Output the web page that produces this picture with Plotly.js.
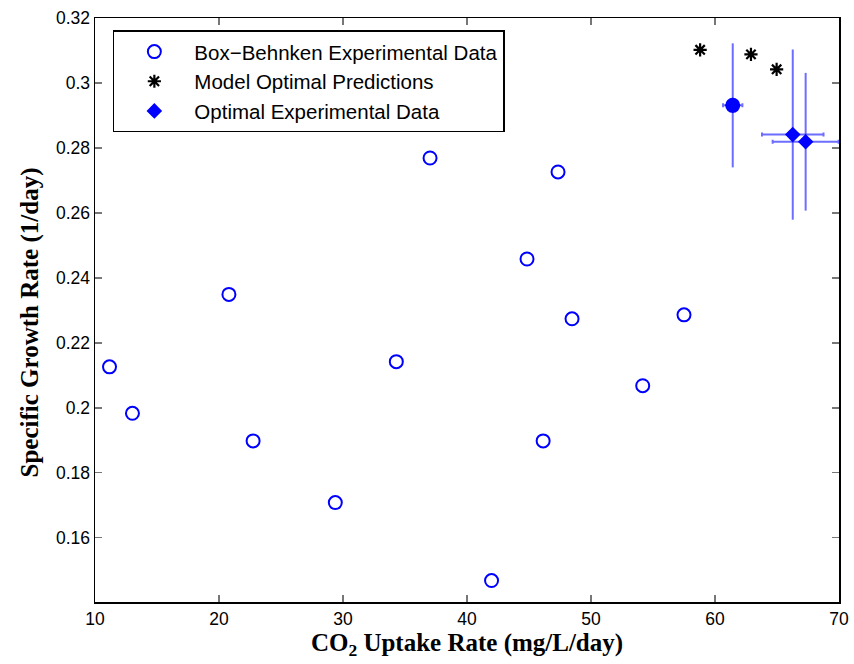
<!DOCTYPE html>
<html>
<head>
<meta charset="utf-8">
<script src="https://cdn.plot.ly/plotly-3.0.1.min.js"></script>
<style>html,body{margin:0;padding:0;background:#fff;}#chart{width:854px;height:664px;}</style>
</head>
<body>
<div id="chart"></div>
<script>
// Box-Behnken experimental data
const bbX = [11.17, 13.02, 20.8, 22.75, 29.38, 34.3, 37.02, 41.98, 44.84, 46.14, 47.34, 48.47, 54.17, 57.5];
const bbY = [0.2126, 0.1983, 0.2349, 0.1898, 0.1708, 0.2142, 0.2769, 0.1468, 0.2458, 0.1898, 0.2726, 0.2274, 0.2068, 0.2286];

// Model optimal predictions
const predX = [58.8, 62.9, 64.97];
const predY = [0.3102, 0.3088, 0.3042];

// Optimal experimental data with error bars
const optX = [61.43, 66.27, 67.31];
const optY = [0.2931, 0.2841, 0.2819];
const optXErr = [0.78, 2.48, 2.66];
const optYErr = [0.0191, 0.0262, 0.0212];

const yTicks = [0.16, 0.18, 0.2, 0.22, 0.24, 0.26, 0.28, 0.3, 0.32];
const yTickText = ['0.16', '0.18', '0.2', '0.22', '0.24', '0.26', '0.28', '0.3', '0.32'];
const xTicks = [10, 20, 30, 40, 50, 60, 70];

const traces = [
  {
    x: bbX, y: bbY, type: 'scatter', mode: 'markers',
    name: 'Box\u2212Behnken Experimental Data',
    marker: {symbol: 'circle-open', size: 13, color: '#0000ff', line: {width: 2, color: '#0000ff'}}
  },
  {
    x: predX, y: predY, type: 'scatter', mode: 'markers',
    name: 'Model Optimal Predictions',
    marker: {symbol: 'asterisk-open', size: 11, color: '#000000', line: {width: 2.2, color: '#000000'}}
  },
  {
    x: optX, y: optY, type: 'scatter', mode: 'markers',
    name: 'Optimal Experimental Data',
    marker: {symbol: 'diamond', size: 12, color: '#0000ff', line: {width: 0}},
    error_x: {type: 'data', array: optXErr, visible: true, color: 'rgba(60,60,255,0.75)', thickness: 2, width: 2},
    error_y: {type: 'data', array: optYErr, visible: true, color: 'rgba(60,60,255,0.75)', thickness: 2, width: 0}
  },
  {
    x: optX.slice(0, 1), y: optY.slice(0, 1), type: 'scatter', mode: 'markers',
    showlegend: false, hoverinfo: 'skip',
    marker: {symbol: 'circle', size: 15, color: '#0000ff', line: {width: 0}}
  }
];

const axisCommon = {
  showgrid: false, zeroline: false, showline: true, linecolor: '#000', linewidth: 1.5,
  mirror: 'ticks', ticks: 'inside', ticklen: 7, tickwidth: 1.5, tickcolor: '#777',
  tickfont: {family: 'Liberation Sans, Arial, sans-serif', size: 17.5, color: '#000'}
};

const layout = {
  width: 854, height: 664,
  margin: {l: 95, r: 15, t: 18, b: 62},
  paper_bgcolor: '#fff', plot_bgcolor: '#fff',
  showlegend: true,
  xaxis: Object.assign({}, axisCommon, {
    range: [10, 70], tickvals: xTicks, ticktext: xTicks.map(String),
    title: {text: '<b>CO<sub>2</sub> Uptake Rate (mg/L/day)</b>', standoff: 2,
            font: {family: 'Liberation Serif, Times New Roman, serif', size: 25, color: '#000'}}
  }),
  yaxis: Object.assign({}, axisCommon, {
    range: [0.1402, 0.32], tickvals: yTicks, ticktext: yTickText,
    title: {text: '<b>Specific Growth Rate (1/day)&nbsp;&nbsp;&nbsp;&nbsp;</b>', standoff: 10,
            font: {family: 'Liberation Serif, Times New Roman, serif', size: 25, color: '#000'}}
  }),
  legend: {
    x: 0.024, y: 0.979, xanchor: 'left', yanchor: 'top',
    bgcolor: '#fff', bordercolor: '#000', borderwidth: 1.5,
    itemwidth: 70, tracegroupgap: 0,
    font: {family: 'Liberation Sans, Arial, sans-serif', size: 20.5, color: '#000'}
  }
};

Plotly.newPlot('chart', traces, layout, {displayModeBar: false, staticPlot: true});
</script>
</body>
</html>
